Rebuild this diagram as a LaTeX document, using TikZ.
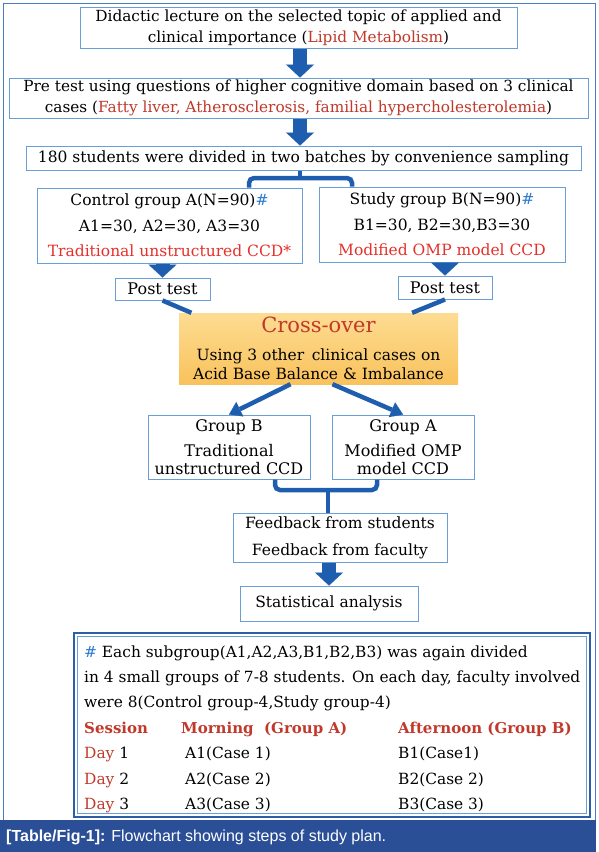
\documentclass[tikz,border=0pt]{standalone}
\usepackage{fontspec}
\setmainfont{DejaVu Serif}
\newfontfamily\capfont{Liberation Sans}
\usetikzlibrary{positioning,arrows.meta,calc}

\definecolor{boxline}{HTML}{6A9FD6}
\definecolor{arrowblue}{HTML}{1F5EAE}
\definecolor{hashblue}{HTML}{2E7BCF}
\definecolor{darkred}{HTML}{C0392B}
\definecolor{brightred}{HTML}{E5302A}
\definecolor{framecol}{HTML}{4A7CC0}
\definecolor{tablecol}{HTML}{2F5EA8}
\definecolor{capblue}{HTML}{2B4F97}
\definecolor{crosstop}{HTML}{FDDC92}
\definecolor{crossbot}{HTML}{F9C25C}

\tikzset{
  box/.style={draw=boxline, line width=1pt, fill=white, align=center, inner sep=0pt,
    font=\fontsize{15.3}{21}\selectfont},
  blockarrow/.style={draw=arrowblue, line width=14pt,
    -{Triangle[width=28pt,length=13pt,line width=0.1pt]}},
  link/.style={draw=arrowblue, line width=4.5pt},
  linkarrow/.style={link, -{Triangle[width=16pt,length=12pt,line width=0.1pt]}},
  bracket/.style={link, rounded corners=5pt},
  txt/.style={anchor=west, inner sep=0pt, text height=11pt, text depth=3pt,
    font=\fontsize{15.4}{18}\selectfont},
  head/.style={text=darkred, font=\fontsize{15}{18}\selectfont\bfseries}
}

\begin{document}
\begin{tikzpicture}[x=1pt,y=-1pt]
  \useasboundingbox (0,0) rectangle (599,852);
  % frame and caption band
  \draw[framecol, line width=1pt] (3,3) rectangle (595,820);
  \fill[capblue] (0,820) rectangle (596,852);
  \node[anchor=west, inner sep=0pt, text=white, font=\capfont\fontsize{16}{18}\selectfont]
    (caption) at (6,837) {\textbf{[Table/Fig-1]:} Flowchart showing steps of study plan.};

  % main column
  \node[box, minimum width=437pt, minimum height=41pt] (lecture) at (298.5,27.5)
    {Didactic lecture on the selected topic of applied and\\
     clinical importance ({\color{darkred}Lipid Metabolism})};
  \node[box, minimum width=579pt, minimum height=40pt] (pretest) [below=29pt of lecture]
    {Pre test using questions of higher cognitive domain based on 3 clinical\\
     cases ({\color{darkred}Fatty liver, Atherosclerosis, familial hypercholesterolemia})};
  \node[box, minimum width=555pt, minimum height=24pt, font=\fontsize{15.5}{18}\selectfont]
    (students) [below=27pt of pretest, xshift=5pt]
    {180 students were divided in two batches by convenience sampling};

  % two groups
  \node[box, minimum width=265pt, minimum height=75pt, font=\fontsize{15.5}{25.5}\selectfont]
    (control) at (169.5,225.5)
    {Control group A(N=90){\color{hashblue}\#}\\
     A1=30, A2=30, A3=30\\
     {\color{brightred}Traditional unstructured CCD*}};
  \node[box, minimum width=246pt, minimum height=75pt, font=\fontsize{15.5}{25.5}\selectfont]
    (study) [right=16pt of control, yshift=1pt]
    {Study group B(N=90){\color{hashblue}\#}\\
     B1=30, B2=30,B3=30\\
     {\color{brightred}Modified OMP model CCD}};
  \node[box, minimum width=95pt, minimum height=22pt, font=\fontsize{16}{18}\selectfont]
    (postL) [below=14pt of control, xshift=-7pt] {Post test};
  \node[box, minimum width=94pt, minimum height=23pt, font=\fontsize{16}{18}\selectfont]
    (postR) [below=13pt of study, xshift=3pt] {Post test};

  % cross-over
  \node[align=center, inner sep=0pt, minimum width=279pt, minimum height=71pt,
    top color=crosstop, bottom color=crossbot, font=\fontsize{15.5}{19}\selectfont]
    (cross) at (318.5,348.5)
    {{\fontsize{21}{24}\selectfont\color{darkred}Cross-over}\\[9pt]
     Using 3 other\, clinical cases on\\
     Acid Base Balance \& Imbalance};
  \node[box, minimum width=162pt, minimum height=64pt, font=\fontsize{16}{18}\selectfont]
    (groupB) at (229,447)
    {Group B\\[7pt] Traditional\\ unstructured CCD};
  \node[box, minimum width=142pt, minimum height=64pt, font=\fontsize{16}{18}\selectfont]
    (groupA) [right=21pt of groupB]
    {Group A\\[7pt] Modified OMP\\ model CCD};
  \node[box, minimum width=214pt, minimum height=49pt, font=\fontsize{15.5}{27}\selectfont]
    (feedback) at (340,537.5)
    {Feedback from students\\ Feedback from faculty};
  \node[box, minimum width=178pt, minimum height=35pt, font=\fontsize{15.5}{18}\selectfont]
    (stat) [below=23pt of feedback, xshift=-11pt]
    {Statistical analysis};

  % connectors
  \draw[blockarrow] (lecture.south -| 300,0) -- (pretest.north -| 300,0);
  \draw[blockarrow] (pretest.south -| 300,0) -- (students.north -| 300,0);
  \draw[blockarrow] (postL.north |- control.south) -- (postL.north);
  \draw[blockarrow] (postR.north |- study.south) -- (postR.north);
  \draw[blockarrow] (stat.north |- feedback.south) -- (stat.north);

  \coordinate (splitL) at (249,178);
  \coordinate (splitR) at (352,178);
  \draw[link] (students.south -| 300,0) -- (300,178);
  \draw[bracket] (control.north -| splitL) -- (splitL) -- (splitR) -- (study.north -| splitR);

  \draw[link] (postL.south) -- ($(cross.north west)!0.045!(cross.north east)$);
  \draw[link] (postR.south) -- ($(cross.north east)!0.165!(cross.north west)$);
  \draw[linkarrow] ($(cross.south west)!0.4!(cross.south east)$) -- (groupB.north);
  \draw[linkarrow] ($(cross.south west)!0.55!(cross.south east)$) -- (groupA.north);

  \coordinate (joinL) at (275,490);
  \coordinate (joinR) at (377,490);
  \coordinate (joinM) at (328,490);
  \draw[bracket] (groupB.south -| joinL) -- (joinL) -- (joinR) -- (groupA.south -| joinR);
  \draw[link] (joinM) -- (joinM |- feedback.north);

  % session table
  \draw[tablecol, line width=2.5pt] (74,633) rectangle (590,817);
  \draw[boxline, line width=0.6pt] (77.5,636.5) rectangle (586.5,813.5);
  \node[txt] (note1) at (84,653) {{\color{hashblue}\#} Each subgroup(A1,A2,A3,B1,B2,B3) was again divided};
  \node[txt] (note2) at (84,678) {in 4 small groups of 7-8 students. On each day, faculty involved};
  \node[txt] (note3) at (84,703) {were 8(Control group-4,Study group-4)};
  \node[txt, head] (session) at (84,729) {Session};
  \node[txt, head] (morning) at (181,729) {Morning\ \ (Group A)};
  \node[txt, head] (afternoon) at (398,729) {Afternoon (Group B)};
  \node[txt] (day1) at (84,754) {{\color{darkred}Day} 1};
  \node[txt] (morn1) at (185,754) {A1(Case 1)};
  \node[txt] (aft1) at (398,754) {B1(Case1)};
  \node[txt] (day2) at (84,780) {{\color{darkred}Day} 2};
  \node[txt] (morn2) at (185,780) {A2(Case 2)};
  \node[txt] (aft2) at (398,780) {B2(Case 2)};
  \node[txt] (day3) at (84,805) {{\color{darkred}Day} 3};
  \node[txt] (morn3) at (185,805) {A3(Case 3)};
  \node[txt] (aft3) at (398,805) {B3(Case 3)};
\end{tikzpicture}
\end{document}
